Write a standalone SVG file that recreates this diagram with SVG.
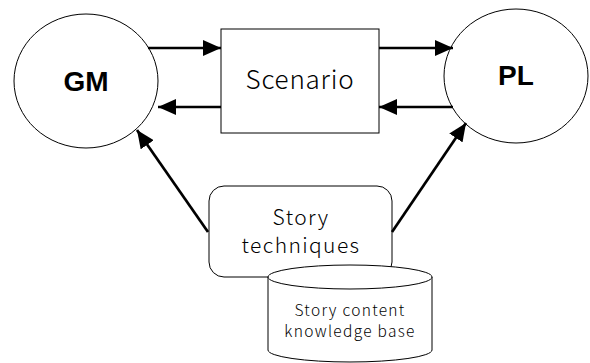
<svg xmlns="http://www.w3.org/2000/svg" width="590" height="363" viewBox="0 0 590 363">
  <style>
    .shape { fill: #ffffff; stroke: #000000; stroke-width: 1; }
    .edge { fill: none; stroke: #000000; stroke-width: 2.7; }
    .big { font-family: "Liberation Sans", Arial, sans-serif; font-weight: bold; font-size: 28px; text-anchor: middle; }
    .label { font-family: "Noto Sans CJK JP", "Noto Sans", sans-serif; font-weight: 300; text-anchor: middle; fill: #000; }
  </style>
  <defs>
    <marker id="head" viewBox="0 0 18 16" refX="18" refY="8" markerWidth="18" markerHeight="16" markerUnits="userSpaceOnUse" orient="auto">
      <path d="M0,0 L18,8 L0,16 Z" fill="#000"/>
    </marker>
  </defs>

  <g id="gm">
    <ellipse class="shape" cx="86" cy="81" rx="72" ry="67"/>
    <text class="big" x="86" y="91">GM</text>
  </g>

  <g id="scenario">
    <rect class="shape" x="221" y="29" width="158" height="104"/>
    <text class="label" x="300" y="89" font-size="26" letter-spacing="0.8">Scenario</text>
  </g>

  <g id="pl">
    <ellipse class="shape" cx="516" cy="76" rx="72" ry="67"/>
    <text class="big" x="516" y="85">PL</text>
  </g>

  <g id="story-techniques">
    <rect class="shape" x="209" y="186" width="183" height="91" rx="15" ry="15"/>
    <text class="label" x="301" y="225" font-size="21" letter-spacing="1.4">Story</text>
    <text class="label" x="301" y="253" font-size="21" letter-spacing="1.4">techniques</text>
  </g>

  <g id="knowledge-base">
    <path class="shape" d="M268,277 L268,350 A82,12 0 0 0 432,350 L432,277"/>
    <ellipse class="shape" cx="350" cy="277" rx="82" ry="12"/>
    <text class="label" x="350" y="316" font-size="15.5" letter-spacing="1.3">Story content</text>
    <text class="label" x="350" y="337" font-size="15.5" letter-spacing="1.3">knowledge base</text>
  </g>

  <g id="connectors">
    <line class="edge" x1="148" y1="48" x2="221" y2="48" marker-end="url(#head)"/>
    <line class="edge" x1="379" y1="48" x2="453" y2="48" marker-end="url(#head)"/>
    <line class="edge" x1="221" y1="107" x2="158" y2="107" marker-end="url(#head)"/>
    <line class="edge" x1="453" y1="107" x2="379" y2="107" marker-end="url(#head)"/>
    <line class="edge" x1="208" y1="232" x2="137" y2="130" marker-end="url(#head)"/>
    <line class="edge" x1="392" y1="232" x2="466" y2="123" marker-end="url(#head)"/>
  </g>
</svg>
